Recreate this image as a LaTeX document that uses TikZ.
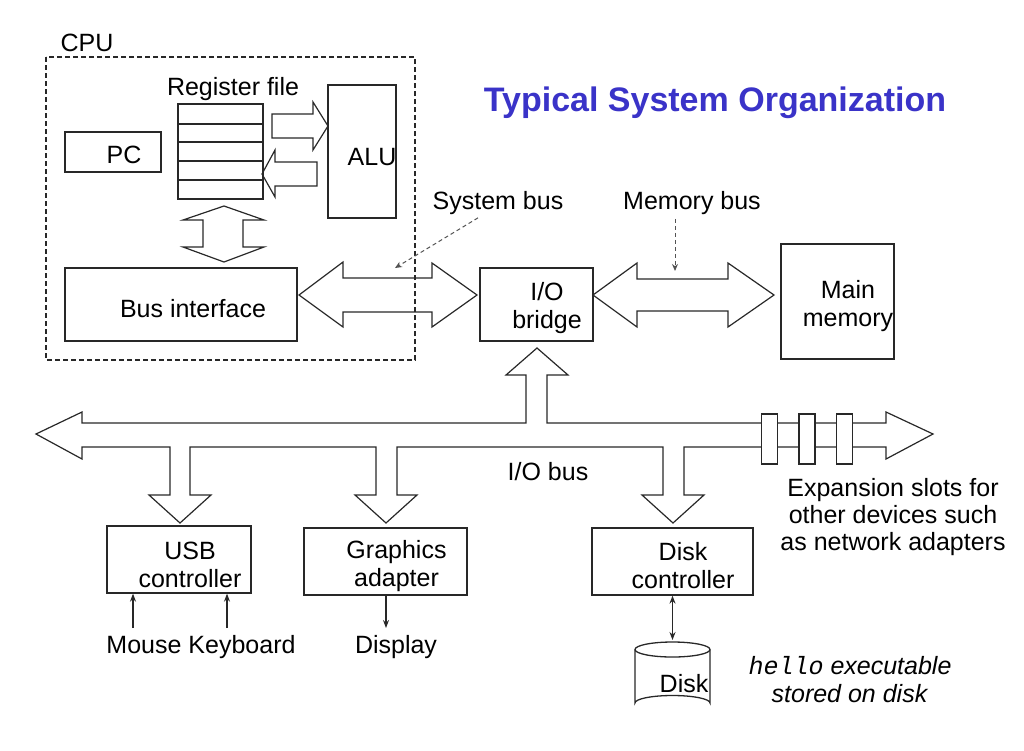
\documentclass[tikz,border=0pt]{standalone}
\usepackage{fontspec}
\setmainfont{Liberation Sans}
\setmonofont{Liberation Mono}
\usetikzlibrary{arrows.meta}
\definecolor{titleblue}{RGB}{58,51,200}
\definecolor{ink}{RGB}{40,40,40}
\begin{document}
\begin{tikzpicture}[x=1pt,y=-1pt,
  every node/.style={font=\fontsize{25}{28}\selectfont, inner sep=0pt, text=black},
  box/.style={draw=ink, line width=1.3pt, fill=none},
  blockarrow/.style={draw=ink, line width=1.2pt, line join=miter},
  pointer/.style={draw=ink!80, line width=1pt, dashed, dash pattern=on 4pt off 3pt, -{Stealth[length=7pt,width=6pt]}},
  thinarrow/.style={draw=ink, line width=1.1pt, -{Stealth[length=8pt,width=6pt]}},
  dthinarrow/.style={draw=ink, line width=1.1pt, {Stealth[length=8pt,width=6pt]}-{Stealth[length=8pt,width=6pt]}}
]
\useasboundingbox (0,0) rectangle (1024,750);

% title
\node[font=\fontsize{34}{38}\selectfont\bfseries, text=titleblue] (title) at (715,103) {Typical System Organization};

% CPU
\node (cpulabel) at (87,43) {CPU};
\node (regfilelabel) at (233,89) {Register file};

% register file
\node[box, minimum width=85, minimum height=95] (reg) at (220.5,151.5) {};
\foreach \yy in {124,142,161,180} \draw[ink, line width=2.2pt] (178,\yy) -- (263,\yy);

\node[box, minimum width=96, minimum height=40] (pc) at (113,152) {};
\node (pctext) at (124,155) {PC};

\node[box, minimum width=68, minimum height=133] (alu) at (362,151.5) {};
\node (alutext) at (372,157) {ALU};

\node[box, minimum width=232, minimum height=73] (busif) at (181,304.5) {};
\node (busiftext) at (193,309) {Bus interface};

% block arrows in CPU
\draw[blockarrow] (272,114) -- (313,114) -- (313,102) -- (328,126) -- (313,150) -- (313,138) -- (272,138) -- cycle;
\draw[blockarrow] (317,162) -- (275,162) -- (275,150) -- (262,174) -- (275,197) -- (275,186) -- (317,186) -- cycle;
\draw[blockarrow] (224,206) -- (264,220) -- (243,220) -- (243,247) -- (264,247) -- (224,262) -- (183,247) -- (203,247) -- (203,220) -- (183,220) -- cycle;

% system bus
\draw[blockarrow] (299,295) -- (343,262) -- (343,278) -- (432,278) -- (432,263) -- (477,295) -- (432,327) -- (432,312) -- (343,312) -- (343,327) -- cycle;

% CPU dashed box
\draw[ink, line width=1.4pt, dash pattern=on 5pt off 3pt] (46,57) rectangle (415,360);

% I/O bridge
\node[box, minimum width=113, minimum height=73] (bridge) at (536.5,304.5) {};
\node[align=center] (bridgetext) at (547,308) {I/O\\bridge};

% memory bus
\draw[blockarrow] (593,295) -- (637,263) -- (637,279) -- (728,279) -- (728,263) -- (774,295) -- (728,327) -- (728,311) -- (637,311) -- (637,327) -- cycle;

% main memory
\node[box, minimum width=113, minimum height=115] (mem) at (837.5,301.5) {};
\node[align=center] (memtext) at (848,306) {Main\\memory};

% bus labels
\node (sysbus) at (498,203) {System bus};
\node (membus) at (692,203) {Memory bus};
\coordinate (sbtip) at (395,268);
\coordinate (mbtip) at (675,271);
\draw[pointer] ([xshift=-20pt,yshift=-3pt]sysbus.south) -- (sbtip);
\draw[pointer] ([xshift=-17pt,yshift=-4pt]membus.south) -- (mbtip);

% I/O bus
\draw[blockarrow] (36,434) -- (82,412) -- (82,423) -- (526,423) -- (526,375) -- (506,375) -- (537,348) -- (568,375) -- (547,375) -- (547,423) -- (886,423) -- (886,412) -- (933,434) -- (886,459) -- (886,447) -- (684,447) -- (684,495) -- (704,495) -- (673,523) -- (642,495) -- (663,495) -- (663,447) -- (397,447) -- (397,495) -- (417,495) -- (386,523) -- (355,495) -- (376,495) -- (376,447) -- (190,447) -- (190,495) -- (211,495) -- (180,523) -- (149,495) -- (170,495) -- (170,447) -- (82,447) -- (82,459) -- cycle;

% expansion slots
\node[box, fill=white, line width=1.2pt, minimum width=16, minimum height=50] (slot1) at (769.5,439) {};
\node[box, fill=white, line width=1.2pt, minimum width=16, minimum height=50] (slot2) at (807,439) {};
\node[box, fill=white, line width=1.2pt, minimum width=16, minimum height=50] (slot3) at (844.5,439) {};

\node (iobus) at (548,472) {I/O bus};
\node[align=center, font=\fontsize{25}{27}\selectfont] (exptext) at (893,517) {Expansion slots for\\other devices such\\as network adapters};

% controllers
\node[box, minimum width=144, minimum height=67] (usb) at (179,559.5) {};
\node[align=center] (usbtext) at (190,565) {USB\\controller};
\node[box, minimum width=163, minimum height=67] (gfx) at (385.5,561.5) {};
\node[align=center] (gfxtext) at (396.5,566) {Graphics\\adapter};
\node[box, minimum width=161, minimum height=67] (diskc) at (672.5,561.5) {};
\node[align=center] (diskctext) at (683,566) {Disk\\controller};

% devices
\node[anchor=base] (mouse) at (144,653) {Mouse};
\node[anchor=base] (keyboard) at (242,653) {Keyboard};
\node[anchor=base] (display) at (396,653) {Display};

\coordinate (mousetail) at (133,628);
\coordinate (kbtail) at (227,628);
\coordinate (disphead) at (386,628);
\draw[thinarrow] (mousetail) -- (mousetail |- usb.south);
\draw[thinarrow] (kbtail) -- (kbtail |- usb.south);
\draw[thinarrow] (disphead |- gfx.south) -- (disphead);

% disk cylinder
\draw[ink, line width=1.3pt] (635,649.5) -- (635,703) arc[start angle=180, end angle=360, x radius=37.5, y radius=7.5] -- (710,649.5);
\draw[ink, line width=1.3pt] (672.5,649.5) ellipse[x radius=37.5, y radius=7.5];
\coordinate (disktop) at (672.5,640);
\node (disktext) at (684,684) {Disk};
\draw[dthinarrow] (diskc.south -| disktop) -- (disktop);

\node[align=center] (hello) at (850,680) {{\ttfamily\itshape hello} \textit{executable}\\\textit{stored on disk}};
\end{tikzpicture}
\end{document}
